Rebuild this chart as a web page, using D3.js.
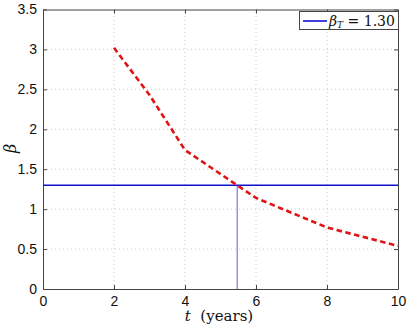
<!DOCTYPE html>
<html><head><meta charset="utf-8">
<script src="https://cdn.jsdelivr.net/npm/d3@7"></script>
<style>body{margin:0;background:#fff}svg{display:block}</style>
</head><body>
<script>
// data
const tYears = [2, 3, 4, 6, 8, 10];
const betaValues = [3.02, 2.43, 1.74, 1.14, 0.77, 0.54];
const betaT = 1.30;
const tCross = 5.47;
const xTicks = [0, 2, 4, 6, 8, 10];
const yTicks = [0, 0.5, 1, 1.5, 2, 2.5, 3, 3.5];
const yTickLabels = ["0", "0.5", "1", "1.5", "2", "2.5", "3", "3.5"];

const W = 408, H = 326;
const m = {l: 43, r: 10, t: 9.5, b: 37};
const svg = d3.select("body").append("svg").attr("width", W).attr("height", H);
const x = d3.scaleLinear().domain([0, 10]).range([m.l, W - m.r]);
const y = d3.scaleLinear().domain([0, 3.5]).range([H - m.b, m.t]);
const fontSans = "'Liberation Sans', Arial, sans-serif";
const fontSerif = "'DejaVu Serif', 'Liberation Serif', serif";

// grid
const g = svg.append("g");
g.selectAll(".gx").data(xTicks.slice(1, -1)).join("line")
  .attr("x1", d => x(d)).attr("x2", d => x(d)).attr("y1", y(0)).attr("y2", y(3.5))
  .attr("stroke", "#c8c8c8").attr("stroke-width", 1).attr("stroke-dasharray", "1,3");
g.selectAll(".gy").data(yTicks.slice(1, -1)).join("line")
  .attr("y1", d => y(d)).attr("y2", d => y(d)).attr("x1", x(0)).attr("x2", x(10))
  .attr("stroke", "#c8c8c8").attr("stroke-width", 1).attr("stroke-dasharray", "1,3");

// axes
const axB = d3.axisBottom(x).tickValues(xTicks).tickSizeInner(-4).tickSizeOuter(0).tickPadding(7).tickFormat(d3.format("d"));
const axT = d3.axisTop(x).tickValues(xTicks).tickSizeInner(-4).tickSizeOuter(0).tickFormat("");
const axL = d3.axisLeft(y).tickValues(yTicks).tickSizeInner(-4).tickSizeOuter(0).tickPadding(6).tickFormat((d, i) => yTickLabels[i]);
const axR = d3.axisRight(y).tickValues(yTicks).tickSizeInner(-4).tickSizeOuter(0).tickFormat("");
function style(sel) {
  sel.selectAll("path").attr("stroke", "#444").attr("stroke-width", 1);
  sel.selectAll("line").attr("stroke", "#444");
  sel.selectAll("text").attr("font-family", fontSans).attr("font-size", 14).attr("fill", "#111");
}
svg.append("g").attr("transform", `translate(0,${y(0)})`).call(axB).call(style);
svg.append("g").attr("transform", `translate(0,${y(3.5)})`).call(axT).call(style);
svg.append("g").attr("transform", `translate(${x(0)},0)`).call(axL).call(style);
svg.append("g").attr("transform", `translate(${x(10)},0)`).call(axR).call(style);

// threshold lines
svg.append("line").attr("x1", x(tCross)).attr("x2", x(tCross)).attr("y1", y(0)).attr("y2", y(betaT))
  .attr("stroke", "#5a5aee").attr("stroke-width", 1);
svg.append("line").attr("x1", x(0)).attr("x2", x(10)).attr("y1", y(betaT)).attr("y2", y(betaT))
  .attr("stroke", "#1010d0").attr("stroke-width", 1.6);

// beta curve
const line = d3.line().x((d, i) => x(tYears[i])).y(d => y(d));
svg.append("path").datum(betaValues).attr("d", line)
  .attr("fill", "none").attr("stroke", "#e01414").attr("stroke-width", 2.6)
  .attr("stroke-dasharray", "5.5,3.5");

// labels
const xl = svg.append("text").attr("x", 219).attr("y", 321).attr("text-anchor", "middle")
  .attr("font-family", fontSerif).attr("font-size", 15).attr("fill", "#111");
xl.append("tspan").attr("font-style", "italic").text("t");
xl.append("tspan").text("\u00a0\u00a0(years)");
svg.append("text").attr("transform", `translate(16,${(y(0) + y(3.5)) / 2 - 1}) rotate(-90)`)
  .attr("text-anchor", "middle").attr("font-family", fontSerif).attr("font-style", "italic")
  .attr("font-size", 16).attr("fill", "#111").text("β");

// legend
const lg = svg.append("g");
lg.append("rect").attr("x", 299.5).attr("y", 11.5).attr("width", 99).attr("height", 18)
  .attr("fill", "#fff").attr("stroke", "#444").attr("stroke-width", 1);
lg.append("line").attr("x1", 303).attr("x2", 327).attr("y1", 21).attr("y2", 21)
  .attr("stroke", "#1010d0").attr("stroke-width", 1.6);
const lt = lg.append("text").attr("x", 329).attr("y", 25.5).attr("font-family", fontSerif)
  .attr("font-size", 14).attr("fill", "#111");
lt.append("tspan").attr("font-style", "italic").text("β");
lt.append("tspan").attr("font-style", "italic").attr("font-size", 9).attr("dy", 2.5).text("T");
lt.append("tspan").attr("dy", -2.5).text(" = 1.30");
</script>
</body></html>
